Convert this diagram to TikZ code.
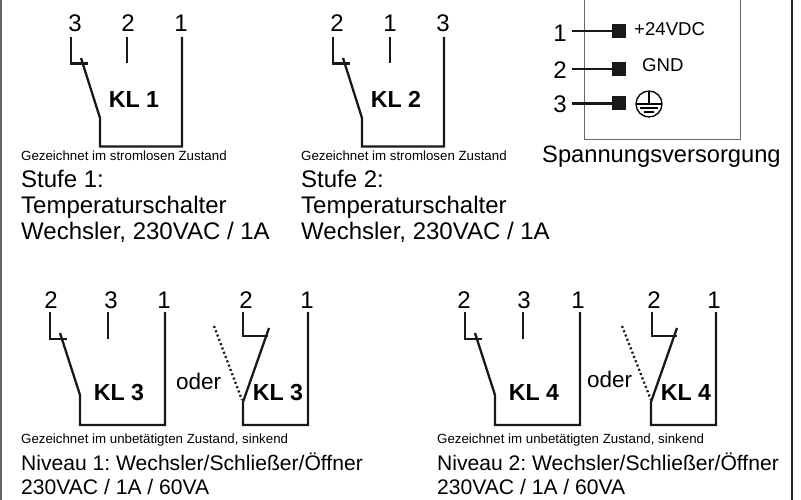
\documentclass[tikz,border=0pt]{standalone}
\usepackage{fontspec}
\setmainfont{Liberation Sans}
\frenchspacing
\tikzset{
  x=1pt,y=-1pt,
  wire/.style={line width=2.3pt,black!90,line join=miter},
  frameline/.style={line width=1.4pt,black!60},
  boxline/.style={line width=1pt,black!60},
  term/.style={font=\fontsize{24}{26}\selectfont,anchor=base,inner sep=0pt},
  kl/.style={font=\fontsize{23.2}{26}\selectfont\bfseries,anchor=base,inner sep=0pt},
  small/.style={font=\fontsize{13.3}{15}\selectfont,anchor=base west,inner sep=0pt},
  big/.style={font=\fontsize{24}{26}\selectfont,anchor=base west,inner sep=0pt},
  mid/.style={font=\fontsize{21.1}{24}\selectfont,anchor=base west,inner sep=0pt},
  pin/.style={font=\fontsize{18.6}{20}\selectfont,anchor=base west,inner sep=0pt},
  sq/.style={fill=black!90,minimum size=14pt,inner sep=0pt},
  dots/.style={line width=2.3pt,black!90,dash pattern=on 2pt off 2.6pt},
}
\begin{document}
\begin{tikzpicture}
\useasboundingbox (0,0) rectangle (801,500);
\fill[white] (0,0) rectangle (801,500);
\draw[frameline] (1,0) -- (1,500);
\draw[line width=1.2pt,black!85] (792,0) -- (792,500);
% KL1
\node[term] (a3) at (75,32) {3};
\node[term] (a2) at (128,32) {2};
\node[term] (a1) at (181,32) {1};
\draw[wire] (71,37) -- (71,63.5) -- (88,63.5);
\draw[wire] (81,58) -- (100,118) -- (100,146.5) -- (182,146.5) -- (182,37);
\draw[wire] (127,37) -- (127,63.5);
\node[kl] (kla) at (134,108) {KL 1};
\node[small] (ga) at (21,160.5) {Gezeichnet im stromlosen Zustand};
\node[big] (sa1) at (21,187) {Stufe 1:};
\node[big] (sa2) at (21,213) {Temperaturschalter};
\node[big] (sa3) at (21,240) {Wechsler, 230VAC / 1A};
% KL2
\node[term] (b2) at (337,32) {2};
\node[term] (b1) at (390,32) {1};
\node[term] (b3) at (443,32) {3};
\draw[wire] (333,37) -- (333,63.5) -- (350,63.5);
\draw[wire] (343,58) -- (362,118) -- (362,146.5) -- (444,146.5) -- (444,37);
\draw[wire] (390,37) -- (390,63.5);
\node[kl] (klb) at (396,108) {KL 2};
\node[small] (gb) at (301,160.5) {Gezeichnet im stromlosen Zustand};
\node[big] (sb1) at (301,187) {Stufe 2:};
\node[big] (sb2) at (301,213) {Temperaturschalter};
\node[big] (sb3) at (301,240) {Wechsler, 230VAC / 1A};
% Power
\draw[boxline] (584,0) -- (584,140) -- (740,140) -- (740,0);
\node[sq] (s1) at (619,31) {};
\node[sq] (s2) at (619,69) {};
\node[sq] (s3) at (619,103.5) {};
\coordinate (w1) at (572,31);
\coordinate (w2) at (572,69);
\coordinate (w3) at (572,103.5);
\draw[wire] (w1) -- (s1);
\draw[wire] (w2) -- (s2);
\draw[wire] (w3) -- (s3);
\node[term] (p1) at (560,42) {1};
\node[term] (p2) at (560,79) {2};
\node[term] (p3) at (560,113) {3};
\node[pin] (v) at (634,36) {+24VDC};
\node[pin] (g) at (642,72) {GND};
\node[circle,draw,line width=1.3pt,minimum size=26pt,inner sep=0pt] (pe) at (649,104) {};
\draw[line width=1.3pt] (649,92) -- (649,104);
\draw[line width=1.3pt] (636,104) -- (662,104);
\draw[line width=1.3pt] (640,108) -- (658,108);
\draw[line width=1.3pt] (644,112) -- (654,112);
\node[font=\fontsize{23.7}{26}\selectfont,anchor=base west,inner sep=0pt] (sv) at (542,163) {Spannungsversorgung};
% KL3
\node[term] (c2) at (51,308) {2};
\node[term] (c3) at (111,308) {3};
\node[term] (c1) at (164,308) {1};
\draw[wire] (50,312) -- (50,339) -- (67,339);
\draw[wire] (60,333) -- (80,395) -- (80,425) -- (165,425) -- (165,312);
\draw[wire] (108,312) -- (108,339);
\node[kl] (klc) at (119,400) {KL 3};
\node[big,font=\fontsize{22.5}{26}\selectfont] (oc) at (176,389) {oder};
\draw[dots] (214,326) -- (242,400);
\node[term] (d2) at (246,308) {2};
\node[term] (d1) at (307,308) {1};
\draw[wire] (243,312) -- (243,336) -- (268,336);
\draw[wire] (269,328) -- (243,402) -- (243,425) -- (308,425) -- (308,312);
\node[kl] (kld) at (278,400) {KL 3};
\node[small] (gc) at (21,443.5) {Gezeichnet im unbetätigten Zustand, sinkend};
\node[mid] (n1) at (21,470) {Niveau 1: Wechsler/Schließer/Öffner};
\node[mid] (n2) at (21,494.5) {230VAC / 1A / 60VA};
% KL4
\node[term] (e2) at (464,308) {2};
\node[term] (e3) at (524,308) {3};
\node[term] (e1) at (578,308) {1};
\draw[wire] (465,312) -- (465,339) -- (482,339);
\draw[wire] (475,333) -- (495,395) -- (495,425) -- (580,425) -- (580,312);
\draw[wire] (523,312) -- (523,339);
\node[kl] (kle) at (534,400) {KL 4};
\node[big,font=\fontsize{22.5}{26}\selectfont] (oe) at (587,387) {oder};
\draw[dots] (622,326) -- (651,400);
\node[term] (f2) at (654,308) {2};
\node[term] (f1) at (714,308) {1};
\draw[wire] (652,312) -- (652,336) -- (677,336);
\draw[wire] (677,328) -- (651,402) -- (651,425) -- (716,425) -- (716,312);
\node[kl] (klf) at (686,400) {KL 4};
\node[small] (ge) at (437,443.5) {Gezeichnet im unbetätigten Zustand, sinkend};
\node[mid] (n3) at (437,470) {Niveau 2: Wechsler/Schließer/Öffner};
\node[mid] (n4) at (437,494.5) {230VAC / 1A / 60VA};
\end{tikzpicture}
\end{document}
